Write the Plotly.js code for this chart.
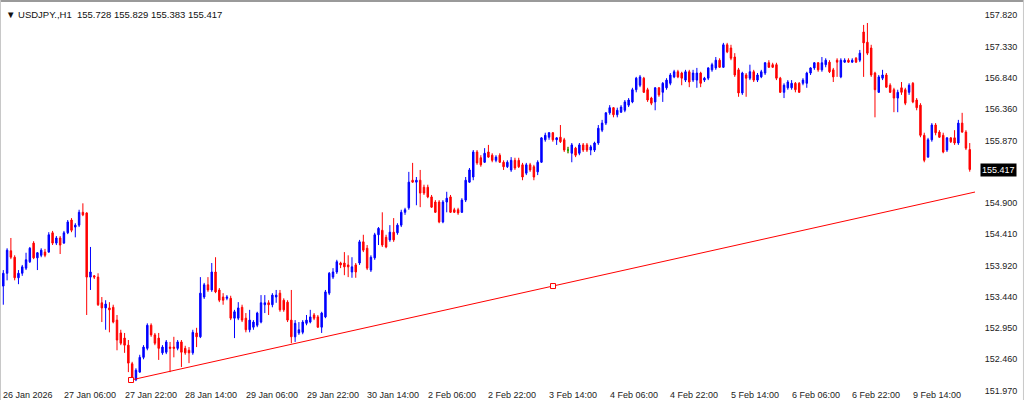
<!DOCTYPE html>
<html>
<head>
<meta charset="utf-8">
<script src="https://cdn.plot.ly/plotly-3.0.1.min.js"></script>
<style>
html,body{margin:0;padding:0;background:#fff;}
#chart{width:1024px;height:400px;}
</style>
</head>
<body>
<div id="chart"></div>
<script>
// USDJPY., H1 candles (bar index 0 = first visible bar, 26 Jan 2026)
const openP = [
153.60,153.80,154.15,154.05,153.73,153.80,153.88,153.98,154.27,154.04,
154.08,154.13,154.13,154.43,154.27,154.35,154.27,154.43,154.63,154.52,
154.55,154.75,154.74,153.74,153.76,153.74,153.34,153.26,153.26,153.27,
153.07,152.87,152.79,152.68,152.39,152.14,152.26,152.49,152.63,152.99,
152.84,152.79,152.56,152.57,152.65,152.65,152.63,152.73,152.63,152.60,
152.56,152.87,152.81,153.43,153.62,153.54,153.82,153.54,153.43,153.41,
153.41,153.10,153.10,153.27,153.10,152.92,152.96,152.99,153.04,153.31,
153.34,153.31,153.43,153.49,153.38,153.35,153.07,152.81,152.87,152.88,
153.02,153.04,153.15,153.12,152.96,153.12,153.49,153.74,153.82,153.96,
153.96,153.93,153.82,153.93,153.96,154.29,154.19,153.85,154.04,154.40,
154.47,154.36,154.32,154.44,154.43,154.55,154.75,154.82,155.25,155.22,
155.25,155.14,155.14,154.99,154.91,154.91,154.60,154.91,154.99,154.79,
154.79,154.75,154.94,155.22,155.30,155.69,155.60,155.53,155.69,155.64,
155.56,155.64,155.53,155.46,155.41,155.56,155.56,155.49,155.36,155.49,
155.46,155.38,155.53,155.88,155.92,155.99,155.88,155.92,155.88,155.72,
155.67,155.75,155.67,155.80,155.80,155.72,155.72,155.83,156.03,156.14,
156.30,156.38,156.27,156.31,156.34,156.42,156.47,156.66,156.73,156.84,
156.66,156.53,156.47,156.69,156.62,156.69,156.76,156.86,156.94,156.92,
156.81,156.94,156.81,156.81,156.92,156.81,156.84,156.97,157.00,157.12,
157.01,157.36,157.31,157.17,156.97,156.61,156.89,156.84,156.94,156.81,
156.86,156.92,157.08,157.05,157.05,156.84,156.62,156.69,156.69,156.76,
156.76,156.76,156.76,156.92,157.00,157.08,156.97,157.05,157.09,156.97,
157.12,156.86,157.09,157.12,157.09,157.15,157.12,157.56,157.40,157.31,
156.92,156.62,156.84,156.89,156.73,156.66,156.53,156.69,156.66,156.62,
156.76,156.50,156.42,155.95,155.61,155.88,156.11,156.00,155.95,155.72,
155.91,155.91,155.83,156.14,156.00,155.728
];
const highP = [
153.85,154.19,154.35,154.08,153.85,153.93,154.12,154.21,154.30,154.13,
154.19,154.18,154.44,154.46,154.38,154.38,154.46,154.63,154.66,154.58,
154.79,154.89,154.75,154.21,153.77,153.80,153.43,153.38,153.35,153.31,
153.15,152.92,152.87,152.76,152.42,152.32,152.53,152.68,153.02,153.02,
152.87,152.87,152.68,152.76,152.73,152.81,152.76,152.76,152.67,152.65,
152.92,152.95,153.74,153.65,153.74,153.96,154.05,153.57,153.49,153.46,
153.45,153.23,153.35,153.31,153.18,153.23,153.07,153.20,153.46,153.46,
153.38,153.49,153.54,153.54,153.41,153.38,153.54,153.07,153.04,153.07,
153.15,153.23,153.18,153.15,153.20,153.54,153.82,153.88,154.01,153.98,
154.13,154.08,154.05,153.96,154.32,154.40,154.24,154.08,154.43,154.52,
154.75,154.40,154.55,154.66,154.58,154.79,154.82,155.38,155.52,155.30,
155.41,155.18,155.18,155.02,154.94,154.94,154.94,155.07,155.02,154.82,
154.82,154.97,155.30,155.44,155.72,155.72,155.64,155.75,155.80,155.67,
155.64,155.67,155.56,155.56,155.61,155.60,155.60,155.52,155.52,155.52,
155.49,155.56,155.92,155.99,156.00,156.00,155.92,156.11,155.91,155.77,
155.83,155.77,155.83,155.83,155.83,155.80,155.85,156.11,156.19,156.31,
156.42,156.39,156.38,156.42,156.50,156.53,156.69,156.86,156.89,156.86,
156.69,156.55,156.70,156.70,156.78,156.84,156.92,156.97,156.97,156.94,
156.97,156.97,156.97,157.00,156.94,156.86,157.01,157.08,157.17,157.15,
157.39,157.39,157.36,157.23,157.00,156.94,156.92,157.05,156.97,156.92,
156.97,157.09,157.12,157.08,157.08,156.86,156.76,156.81,156.81,156.78,
156.78,156.84,156.94,157.01,157.09,157.09,157.17,157.15,157.12,157.00,
157.15,157.15,157.15,157.15,157.15,157.17,157.28,157.67,157.70,157.36,
156.94,156.89,156.97,156.92,156.76,156.69,156.66,156.78,156.69,156.76,
156.78,156.53,156.45,155.99,155.91,156.14,156.14,156.03,155.99,155.92,
155.92,156.03,156.19,156.30,156.03,155.829
];
const lowP = [
153.31,153.69,154.02,153.69,153.63,153.76,153.85,153.96,154.02,153.85,
154.05,154.05,154.12,154.24,154.24,154.10,154.26,154.41,154.44,154.36,
154.52,154.69,153.15,153.54,153.71,153.29,153.04,152.92,152.88,153.02,
152.60,152.68,152.56,152.26,152.13,152.12,152.25,152.46,152.60,152.81,
152.68,152.45,152.53,152.54,152.26,152.49,152.60,152.34,152.53,152.40,
152.53,152.65,152.79,153.40,153.51,153.51,153.49,153.35,153.31,153.38,
153.07,152.79,153.07,153.04,152.88,152.88,152.92,152.96,153.02,153.18,
153.15,153.27,153.34,153.20,153.20,153.04,152.71,152.73,152.84,152.85,
152.99,153.02,153.07,152.95,152.87,153.10,153.46,153.71,153.79,153.88,
153.77,153.74,153.73,153.73,153.93,154.13,153.85,153.82,154.01,154.24,
154.21,154.19,154.29,154.29,154.40,154.52,154.71,154.79,155.21,154.86,
154.83,155.02,154.97,154.82,154.74,154.58,154.58,154.75,154.74,154.74,
154.71,154.74,154.91,155.21,155.25,155.49,155.46,155.52,155.60,155.53,
155.53,155.52,155.41,155.44,155.38,155.41,155.44,155.25,155.33,155.38,
155.25,155.33,155.52,155.85,155.88,155.85,155.80,155.83,155.69,155.67,
155.53,155.61,155.64,155.69,155.69,155.64,155.69,155.80,156.00,156.11,
156.27,156.23,156.23,156.30,156.31,156.39,156.45,156.62,156.70,156.61,
156.47,156.42,156.34,156.55,156.47,156.66,156.73,156.84,156.84,156.73,
156.78,156.70,156.78,156.69,156.70,156.78,156.81,156.94,156.97,157.00,
157.00,157.23,157.12,156.86,156.55,156.58,156.55,156.81,156.78,156.78,
156.84,156.89,157.00,157.00,156.81,156.61,156.53,156.66,156.66,156.62,
156.61,156.73,156.69,156.89,156.97,156.94,156.94,157.01,156.92,156.78,
156.86,156.84,157.08,157.08,157.08,157.08,157.09,156.86,157.20,156.86,
156.23,156.61,156.81,156.69,156.61,156.31,156.31,156.58,156.42,156.58,
156.45,156.34,155.92,155.53,155.60,155.85,155.95,155.91,155.67,155.69,
155.83,155.80,155.80,155.99,155.72,155.383
];
const closeP = [
153.80,154.16,154.05,153.73,153.80,153.90,154.01,154.19,154.04,154.12,
154.16,154.08,154.40,154.27,154.35,154.24,154.43,154.60,154.47,154.55,
154.75,154.71,153.74,153.82,153.74,153.31,153.26,153.32,153.23,153.04,
152.76,152.71,152.68,152.40,152.17,152.29,152.49,152.65,152.99,152.84,
152.71,152.63,152.65,152.73,152.63,152.63,152.73,152.57,152.56,152.56,
152.88,152.81,153.49,153.62,153.54,153.82,153.51,153.38,153.38,153.43,
153.10,153.20,153.26,153.07,152.92,153.07,153.04,153.18,153.34,153.34,
153.31,153.46,153.46,153.23,153.23,153.07,152.81,153.02,152.92,153.04,
153.07,153.12,153.10,152.96,153.18,153.51,153.80,153.82,153.98,153.93,
153.90,153.90,153.90,153.82,154.29,154.16,153.88,154.05,154.40,154.50,
154.24,154.21,154.44,154.32,154.55,154.75,154.79,155.22,155.22,155.25,
155.05,155.05,154.99,154.83,154.75,154.60,154.91,154.97,154.75,154.75,
154.74,154.94,155.25,155.41,155.69,155.52,155.49,155.67,155.61,155.56,
155.61,155.53,155.46,155.53,155.56,155.44,155.46,155.30,155.49,155.41,
155.30,155.53,155.91,155.95,155.99,155.88,155.91,155.85,155.72,155.72,
155.80,155.64,155.80,155.72,155.72,155.77,155.83,156.06,156.14,156.30,
156.38,156.27,156.34,156.39,156.47,156.50,156.66,156.84,156.86,156.62,
156.50,156.45,156.69,156.58,156.76,156.81,156.89,156.94,156.86,156.84,
156.94,156.78,156.92,156.92,156.76,156.84,157.00,157.05,157.12,157.01,
157.36,157.25,157.15,156.89,156.61,156.92,156.84,156.94,156.81,156.89,
156.94,157.08,157.01,157.01,156.84,156.62,156.73,156.78,156.76,156.66,
156.62,156.81,156.92,157.00,157.08,156.97,157.08,157.12,156.94,156.86,
157.09,157.12,157.12,157.09,157.12,157.09,157.23,157.39,157.23,156.89,
156.66,156.86,156.89,156.70,156.62,156.53,156.62,156.62,156.45,156.73,
156.47,156.38,155.95,155.56,155.88,156.11,155.99,155.92,155.69,155.91,
155.85,155.83,156.14,156.00,155.75,155.417
];

// time-axis labels (every 16 hourly bars)
const timeTickIdx = [0,16,32,48,64,80,96,112,128,144,160,176,192,208,224,240];
const timeTickText = ["26 Jan 2026","27 Jan 06:00","27 Jan 22:00","28 Jan 14:00",
  "29 Jan 06:00","29 Jan 22:00","30 Jan 14:00","2 Feb 06:00","2 Feb 22:00",
  "3 Feb 14:00","4 Feb 06:00","4 Feb 22:00","5 Feb 14:00","6 Feb 06:00",
  "6 Feb 22:00","9 Feb 14:00"];

// price-axis labels
const priceTicks = [151.970,152.460,152.950,153.440,153.920,154.410,154.900,
  155.870,156.360,156.840,157.330,157.820];

// trend line anchors (bar index, price)
const trendIdx = [33.7, 145.05, 256.4];
const trendPrice = [152.137, 153.601, 155.066];

const symbolText = "USDJPY.,H1";
const lastBar = {o:155.728, h:155.829, l:155.383, c:155.417};

const idx = openP.map((_, i) => i);

// doji bars (open == close) are drawn in green
const dojiIdx = idx.filter(i => openP[i] === closeP[i]);

const FONT = "Liberation Sans, Arial, sans-serif";

const traces = [
  {
    type: 'candlestick',
    x: idx, open: openP, high: highP, low: lowP, close: closeP,
    increasing: {line: {color: '#0000ff', width: 1}, fillcolor: '#0000ff'},
    decreasing: {line: {color: '#ff0000', width: 1}, fillcolor: '#ff0000'},
    whiskerwidth: 0,
    hoverinfo: 'skip',
    showlegend: false
  },
  {
    type: 'candlestick',
    x: dojiIdx,
    open: dojiIdx.map(i => openP[i]), high: dojiIdx.map(i => highP[i]),
    low: dojiIdx.map(i => lowP[i]), close: dojiIdx.map(i => closeP[i]),
    increasing: {line: {color: '#00c000', width: 1}, fillcolor: '#00c000'},
    decreasing: {line: {color: '#00c000', width: 1}, fillcolor: '#00c000'},
    whiskerwidth: 0,
    hoverinfo: 'skip',
    showlegend: false
  },
  {
    type: 'scatter', mode: 'lines+markers',
    x: trendIdx, y: trendPrice,
    line: {color: '#ff0000', width: 1},
    marker: {symbol: 'square', size: 5, color: '#ffffff', line: {color: '#ff0000', width: 1}},
    hoverinfo: 'skip', showlegend: false, cliponaxis: false
  }
];

const annotations = timeTickIdx.map((t, k) => ({
  x: t, xref: 'x', y: 0, yref: 'paper',
  text: timeTickText[k], showarrow: false,
  xanchor: 'left', yanchor: 'top', yshift: 4, xshift: -2,
  font: {family: FONT, size: 9, color: '#222'}
}));

annotations.push({
  x: 0, xref: 'paper', y: 1, yref: 'paper',
  text: '\u25BC ' + symbolText + '\u00a0\u00a0' +
        [lastBar.o, lastBar.h, lastBar.l, lastBar.c].map(v => v.toFixed(3)).join(' '),
  showarrow: false, xanchor: 'left', yanchor: 'top', xshift: 4, yshift: -5,
  font: {family: FONT, size: 9.5, color: '#111'}
});

annotations.push({
  x: 1, xref: 'paper', y: lastBar.c, yref: 'y',
  text: lastBar.c.toFixed(3), showarrow: false,
  xanchor: 'left', yanchor: 'middle', xshift: 5,
  bgcolor: '#000000', borderpad: 1,
  font: {family: FONT, size: 9, color: '#ffffff'}
});

const layout = {
  width: 1024, height: 400,
  margin: {l: 0, r: 49, t: 2, b: 8},
  paper_bgcolor: '#ffffff', plot_bgcolor: '#ffffff',
  showlegend: false,
  boxgap: 0.45,
  xaxis: {
    range: [-0.871, 256.39], showgrid: false, zeroline: false,
    showticklabels: false, ticks: '', showline: false,
    rangeslider: {visible: false}, fixedrange: true
  },
  yaxis: {
    range: [151.950, 158.027], side: 'right',
    showgrid: false, zeroline: false, showline: false,
    tickmode: 'array', tickvals: priceTicks,
    ticktext: priceTicks.map(v => v.toFixed(3)),
    ticks: 'outside', ticklen: 7, tickcolor: 'rgba(0,0,0,0)',
    tickfont: {family: FONT, size: 9, color: '#222'},
    fixedrange: true
  },
  annotations: annotations,
  shapes: [
    {type: 'line', xref: 'paper', yref: 'paper', x0: 0, x1: 1.0503, y0: 1.0026, y1: 1.0026,
     line: {color: '#9a9a9a', width: 2}},
    {type: 'line', xref: 'paper', yref: 'paper', x0: 0.0005, x1: 0.0005, y0: -0.03, y1: 1.005,
     line: {color: '#c8c8c8', width: 1}},
    {type: 'line', xref: 'paper', yref: 'paper', x0: 1.0497, x1: 1.0497, y0: -0.03, y1: 1.005,
     line: {color: '#c8c8c8', width: 1}}
  ]
};

Plotly.newPlot('chart', traces, layout, {staticPlot: true, displayModeBar: false});
</script>
</body>
</html>
